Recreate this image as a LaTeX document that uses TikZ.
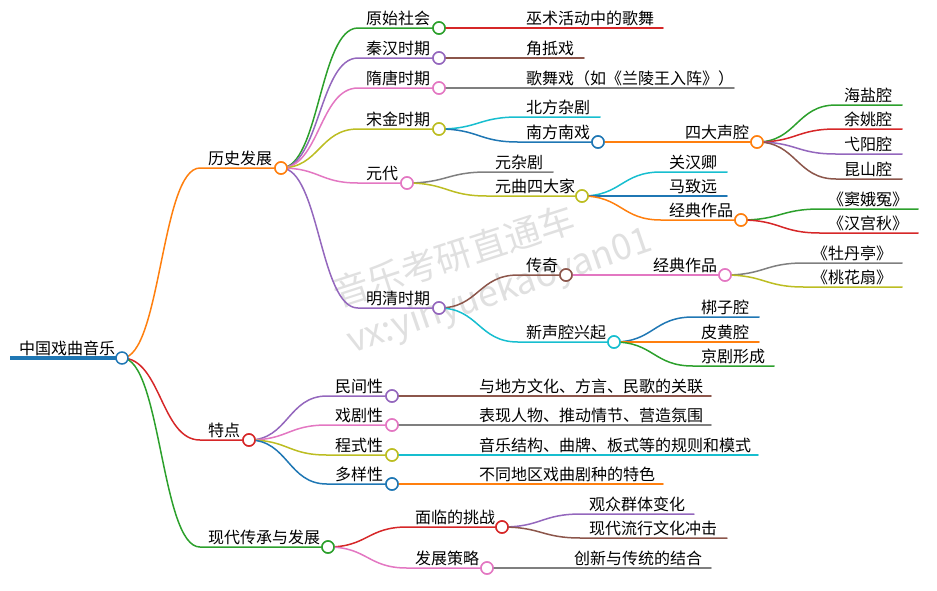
\documentclass[tikz,border=0pt]{standalone}
\usepackage{fontspec}
\setmainfont{Noto Sans CJK SC}
\usetikzlibrary{calc}
\definecolor{cBlue}{HTML}{1F77B4}
\definecolor{cOrange}{HTML}{FF7F0E}
\definecolor{cGreen}{HTML}{2CA02C}
\definecolor{cRed}{HTML}{D62728}
\definecolor{cPurple}{HTML}{9467BD}
\definecolor{cBrown}{HTML}{8C564B}
\definecolor{cPink}{HTML}{E377C2}
\definecolor{cGray}{HTML}{7F7F7F}
\definecolor{cOlive}{HTML}{BCBD22}
\definecolor{cCyan}{HTML}{17BECF}
\tikzset{
  lnk/.style={line width=1.5pt, line cap=round},
  dot/.style={circle, draw, fill=white, line width=1.5pt, minimum size=12pt, inner sep=0pt},
  lbl/.style={anchor=base west, inner sep=0pt, font=\fontsize{16}{16}\selectfont, text=black},
  wm/.style={anchor=base west, inner sep=0pt, text=black!12, font=\fontsize{36}{36}\selectfont},
}
% #1 name, #2 start x, #3 y, #4 end x, #5 colour, #6 text
\newcommand\mmInner[6]{%
  \coordinate (#1-s) at (#2,#3);
  \node[dot, draw=#5] (#1) at (#4,#3) {};
  \node[lbl] (#1-t) at ([xshift=8pt,yshift=4pt]#1-s) {#6};
}
\newcommand\mmLeaf[6]{%
  \coordinate (#1-s) at (#2,#3);
  \coordinate (#1) at (#4,#3);
  \node[lbl] (#1-t) at ([xshift=8pt,yshift=4pt]#1-s) {#6};
}
% #1 parent, #2 child, #3 colour
\newcommand\mmLink[3]{%
  \draw[lnk, #3] let \p1=(#1), \p2=(#2-s) in (\p1) .. controls ({(\x1+\x2)/2},\y1) and ({(\x1+\x2)/2},\y2) .. (\p2) -- (#2);
}
\begin{document}
\begin{tikzpicture}[x=1pt,y=-1pt]
\useasboundingbox (0,0) rectangle (937,590);
% watermark
\node[wm, rotate=18] (wm1) at (338,308) {音乐考研直通车};
\node[wm, rotate=19] (wm2) at (352,354) {vx:yinyuekaoyan01};

% nodes (positions, labels)
\coordinate (root-s) at (10,358);
\node[lbl] (root-t) at (19,354) {中国戏曲音乐};

\mmInner{hist}{200}{168}{281}{cOrange}{历史发展}
\mmInner{feat}{200}{440}{249}{cRed}{特点}
\mmInner{mod}{200}{547}{328}{cGreen}{现代传承与发展}

\mmInner{ys}{358}{28}{439}{cGreen}{原始社会}
\mmInner{qh}{358}{58}{439}{cPurple}{秦汉时期}
\mmInner{st}{358}{88}{439}{cPink}{隋唐时期}
\mmInner{sj}{358}{129}{439}{cOlive}{宋金时期}
\mmInner{yd}{358}{183}{407}{cPink}{元代}
\mmInner{mq}{358}{308}{439}{cPurple}{明清时期}

\mmLeaf{ys1}{518}{28}{663}{cRed}{巫术活动中的歌舞}
\mmLeaf{qh1}{518}{58}{584}{cBrown}{角抵戏}
\mmLeaf{st1}{518}{88}{734}{cGray}{歌舞戏（如《兰陵王入阵》）}
\mmLeaf{sj1}{518}{117}{600}{cCyan}{北方杂剧}
\mmInner{sj2}{518}{142}{598}{cBlue}{南方南戏}
\mmInner{sdsq}{677}{142}{757}{cOrange}{四大声腔}
\mmLeaf{hy}{836}{105}{902}{cGreen}{海盐腔}
\mmLeaf{yy}{836}{129}{902}{cRed}{余姚腔}
\mmLeaf{yyq}{836}{154}{902}{cPurple}{弋阳腔}
\mmLeaf{ks}{836}{179}{902}{cBrown}{昆山腔}

\mmLeaf{yd1}{487}{172}{553}{cGray}{元杂剧}
\mmInner{yd2}{487}{196}{582}{cOlive}{元曲四大家}
\mmLeaf{ghq}{661}{172}{727}{cCyan}{关汉卿}
\mmLeaf{mzy}{661}{196}{727}{cBlue}{马致远}
\mmInner{jda}{661}{220}{741}{cOrange}{经典作品}
\mmLeaf{de}{820}{209}{918}{cGreen}{《窦娥冤》}
\mmLeaf{hg}{820}{233}{918}{cRed}{《汉宫秋》}

\mmInner{cq}{518}{275}{566}{cBrown}{传奇}
\mmInner{jdb}{645}{275}{725}{cPink}{经典作品}
\mmLeaf{md}{804}{263}{902}{cGray}{《牡丹亭》}
\mmLeaf{th}{804}{287}{902}{cOlive}{《桃花扇》}
\mmInner{xsq}{518}{342}{614}{cCyan}{新声腔兴起}
\mmLeaf{bz}{693}{317}{759}{cBlue}{梆子腔}
\mmLeaf{ph}{693}{342}{759}{cOrange}{皮黄腔}
\mmLeaf{jj}{693}{366}{774}{cGreen}{京剧形成}

\mmInner{mj}{327}{396}{392}{cPurple}{民间性}
\mmInner{xj}{327}{425}{392}{cPink}{戏剧性}
\mmInner{cs}{327}{455}{392}{cOlive}{程式性}
\mmInner{dy}{327}{484}{392}{cBlue}{多样性}
\mmLeaf{mj1}{471}{396}{711}{cBrown}{与地方文化、方言、民歌的关联}
\mmLeaf{xj1}{471}{425}{711}{cGray}{表现人物、推动情节、营造氛围}
\mmLeaf{cs1}{471}{455}{758}{cCyan}{音乐结构、曲牌、板式等的规则和模式}
\mmLeaf{dy1}{471}{484}{663}{cOrange}{不同地区戏曲剧种的特色}

\mmInner{mlt}{407}{527}{502}{cRed}{面临的挑战}
\mmInner{fz}{407}{568}{487}{cPink}{发展策略}
\mmLeaf{gz}{581}{514}{694}{cPurple}{观众群体变化}
\mmLeaf{xd}{581}{538}{727}{cBrown}{现代流行文化冲击}
\mmLeaf{cx}{566}{568}{711}{cGray}{创新与传统的结合}

% connectors
\draw[cBlue, line width=4pt] (root-s) -- (122,358) coordinate (root);
\mmLink{root}{hist}{cOrange}
\mmLink{root}{feat}{cRed}
\mmLink{root}{mod}{cGreen}
\mmLink{hist}{ys}{cGreen}
\mmLink{hist}{qh}{cPurple}
\mmLink{hist}{st}{cPink}
\mmLink{hist}{sj}{cOlive}
\mmLink{hist}{yd}{cPink}
\mmLink{hist}{mq}{cPurple}
\mmLink{ys}{ys1}{cRed}
\mmLink{qh}{qh1}{cBrown}
\mmLink{st}{st1}{cGray}
\mmLink{sj}{sj1}{cCyan}
\mmLink{sj}{sj2}{cBlue}
\mmLink{sj2}{sdsq}{cOrange}
\mmLink{sdsq}{hy}{cGreen}
\mmLink{sdsq}{yy}{cRed}
\mmLink{sdsq}{yyq}{cPurple}
\mmLink{sdsq}{ks}{cBrown}
\mmLink{yd}{yd1}{cGray}
\mmLink{yd}{yd2}{cOlive}
\mmLink{yd2}{ghq}{cCyan}
\mmLink{yd2}{mzy}{cBlue}
\mmLink{yd2}{jda}{cOrange}
\mmLink{jda}{de}{cGreen}
\mmLink{jda}{hg}{cRed}
\mmLink{mq}{cq}{cBrown}
\mmLink{cq}{jdb}{cPink}
\mmLink{jdb}{md}{cGray}
\mmLink{jdb}{th}{cOlive}
\mmLink{mq}{xsq}{cCyan}
\mmLink{xsq}{bz}{cBlue}
\mmLink{xsq}{ph}{cOrange}
\mmLink{xsq}{jj}{cGreen}
\mmLink{feat}{mj}{cPurple}
\mmLink{feat}{xj}{cPink}
\mmLink{feat}{cs}{cOlive}
\mmLink{feat}{dy}{cBlue}
\mmLink{mj}{mj1}{cBrown}
\mmLink{xj}{xj1}{cGray}
\mmLink{cs}{cs1}{cCyan}
\mmLink{dy}{dy1}{cOrange}
\mmLink{mod}{mlt}{cRed}
\mmLink{mod}{fz}{cPink}
\mmLink{mlt}{gz}{cPurple}
\mmLink{mlt}{xd}{cBrown}
\mmLink{fz}{cx}{cGray}

% circles on top
\foreach \n/\c in {hist/cOrange,feat/cRed,mod/cGreen,ys/cGreen,qh/cPurple,st/cPink,sj/cOlive,yd/cPink,mq/cPurple,sj2/cBlue,sdsq/cOrange,yd2/cOlive,jda/cOrange,cq/cBrown,jdb/cPink,xsq/cCyan,mj/cPurple,xj/cPink,cs/cOlive,dy/cBlue,mlt/cRed,fz/cPink}
  \node[dot, draw=\c] at (\n) {};
\node[dot, draw=cBlue] (rootdot) at (root) {};
\end{tikzpicture}
\end{document}
